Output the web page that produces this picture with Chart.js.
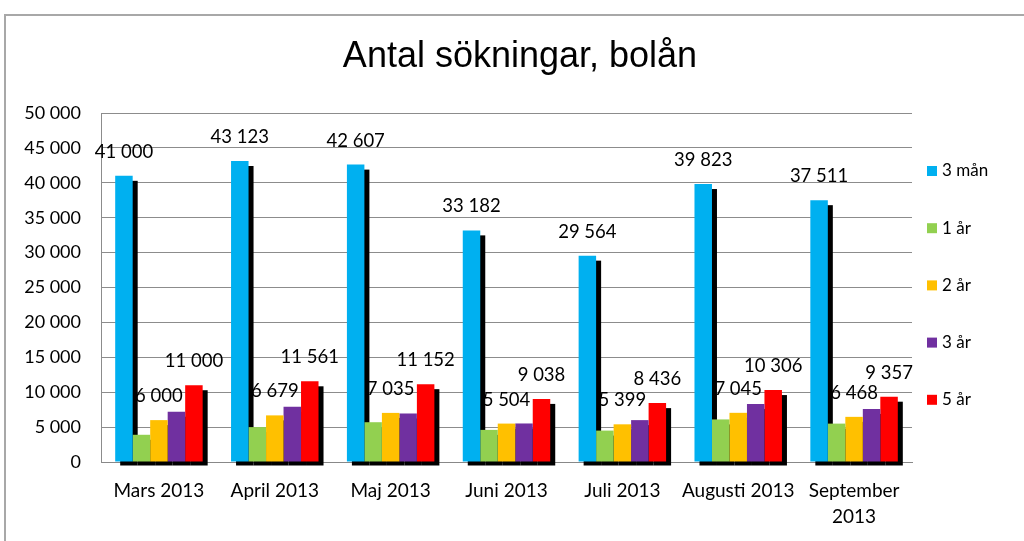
<!DOCTYPE html>
<html>
<head>
<meta charset="utf-8">
<script src="https://cdn.jsdelivr.net/npm/chart.js@4/dist/chart.umd.min.js"></script>
<style>
    html, body { margin: 0; padding: 0; background: #fff; }
    #wrap { width: 1024px; height: 541px; }
</style>
</head>
<body>
<div id="wrap"><canvas id="chart" width="1024" height="541"></canvas></div>
<script>
    "use strict";

    // Data
    var categories = ['Mars 2013', 'April 2013', 'Maj 2013', 'Juni 2013', 'Juli 2013', 'Augusti 2013', ['September', '2013']];
    var seriesNames = ['3 mån', '1 år', '2 år', '3 år', '5 år'];
    var man3 = [41000, 43123, 42607, 33182, 29564, 39823, 37511];
    var ar1 = [3900, 5000, 5700, 4600, 4500, 6100, 5500];
    var ar2 = [6000, 6679, 7035, 5504, 5399, 7045, 6468];
    var ar3 = [7200, 7900, 6950, 5520, 6000, 8300, 7600];
    var ar5 = [11000, 11561, 11152, 9038, 8436, 10306, 9357];
    var yTicks = [0, 5000, 10000, 15000, 20000, 25000, 30000, 35000, 40000, 45000, 50000];

    var chartTitle = 'Antal sökningar, bolån';
    var colors = ['#00B0F0', '#92D050', '#FFC000', '#7030A0', '#FF0000'];
    var labelled = [0, 2, 4]; // series that show value labels

    function fmt(v) {
        return String(v).replace(/\B(?=(\d{3})+(?!\d))/g, ' ');
    }

    Chart.defaults.font.family = 'Lato';
    Chart.defaults.color = '#000';

    // Outer frame + title (centred on the whole picture, not the plot)
    var framePlugin = {
        id: 'frame',
        beforeDraw: function (chart) {
            var ctx = chart.ctx;
            ctx.save();
            ctx.strokeStyle = '#a8a8a8';
            ctx.lineWidth = 2;
            ctx.strokeRect(5, 15, 1100, 600);
            ctx.font = '36px "Liberation Sans"';
            ctx.fillStyle = '#000';
            ctx.textAlign = 'center';
            ctx.textBaseline = 'alphabetic';
            ctx.fillText(chartTitle, 520, 67);
            ctx.restore();
        }
    };

    // Black drop shadow behind each bar
    var shadowPlugin = {
        id: 'barShadow',
        beforeDatasetsDraw: function (chart) {
            var ctx = chart.ctx;
            ctx.save();
            ctx.fillStyle = '#000';
            chart.data.datasets.forEach(function (ds, i) {
                chart.getDatasetMeta(i).data.forEach(function (bar) {
                    var w = bar.width;
                    ctx.fillRect(bar.x - w / 2 + 5, bar.y + 5, w, bar.base - bar.y - 1);
                });
            });
            ctx.restore();
        }
    };

    // Value labels
    var valuePlugin = {
        id: 'values',
        afterDatasetsDraw: function (chart) {
            var ctx = chart.ctx;
            ctx.save();
            ctx.font = '18.5px Lato';
            ctx.fillStyle = '#000';
            ctx.textAlign = 'center';
            ctx.textBaseline = 'middle';
            labelled.forEach(function (i) {
                var ds = chart.data.datasets[i];
                chart.getDatasetMeta(i).data.forEach(function (bar, j) {
                    ctx.fillText(fmt(ds.data[j]), bar.x, bar.y - 24);
                });
            });
            ctx.restore();
        }
    };

    // Legend on the right
    var legendPlugin = {
        id: 'sideLegend',
        afterDraw: function (chart) {
            var ctx = chart.ctx;
            ctx.save();
            ctx.font = '17px Lato';
            ctx.textAlign = 'left';
            ctx.textBaseline = 'middle';
            chart.data.datasets.forEach(function (ds, i) {
                var y = 171 + i * 57.2;
                ctx.fillStyle = ds.backgroundColor;
                ctx.fillRect(927, y - 5, 10, 10);
                ctx.fillStyle = '#000';
                ctx.fillText(ds.label, 942, y);
            });
            ctx.restore();
        }
    };

    var series = [man3, ar1, ar2, ar3, ar5];
    var datasets = series.map(function (d, i) {
        return {
            label: seriesNames[i],
            data: d,
            backgroundColor: colors[i],
            borderWidth: 0,
            categoryPercentage: 0.755,
            barPercentage: 1.0
        };
    });

    new Chart(document.getElementById('chart').getContext('2d'), {
        type: 'bar',
        data: { labels: categories, datasets: datasets },
        options: {
            responsive: false,
            animation: false,
            layout: { padding: { left: 0, right: 112, top: 113, bottom: 0 } },
            plugins: {
                legend: { display: false },
                tooltip: { enabled: false },
                title: { display: false }
            },
            scales: {
                x: {
                    grid: { display: false, drawTicks: false },
                    border: { color: '#888' },
                    ticks: {
                        font: { size: 19, lineHeight: 1.35 },
                        padding: 16,
                        maxRotation: 0,
                        autoSkip: false
                    },
                    afterFit: function (s) { s.height = 79; }
                },
                y: {
                    min: 0,
                    max: 50000,
                    grid: { color: '#8c8c8c', drawTicks: false },
                    border: { color: '#8c8c8c' },
                    ticks: {
                        font: { size: 18 },
                        padding: 20,
                        callback: function (v) { return fmt(v); }
                    },
                    afterBuildTicks: function (s) {
                        s.ticks = yTicks.map(function (v) { return { value: v }; });
                    },
                    afterFit: function (s) { s.width = 101; }
                }
            }
        },
        plugins: [framePlugin, shadowPlugin, valuePlugin, legendPlugin]
    });
</script>
</body>
</html>
